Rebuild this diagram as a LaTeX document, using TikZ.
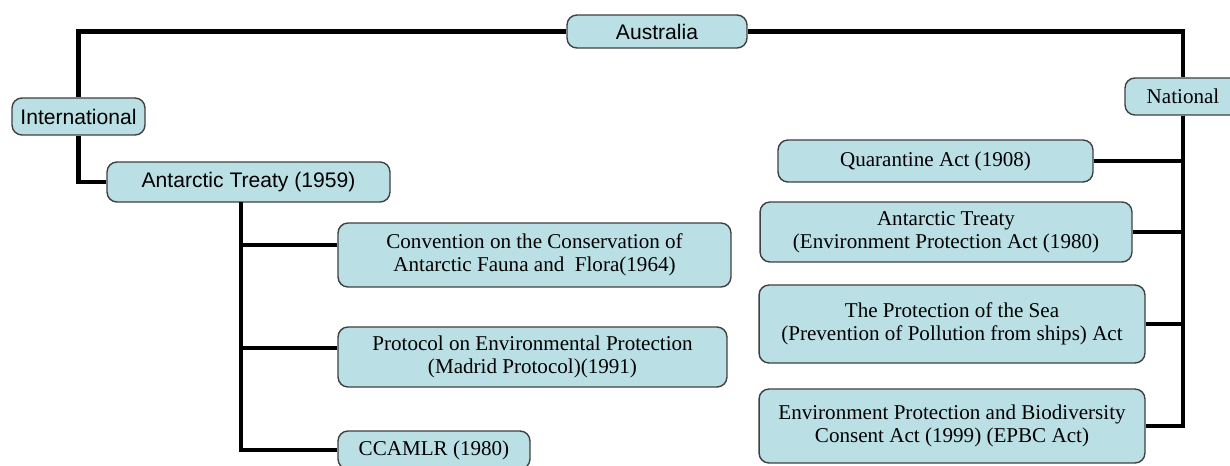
\documentclass[tikz,border=0pt]{standalone}
\usepackage{fontspec}
\setmainfont{Liberation Serif}
\setsansfont{Liberation Sans}
\usepackage{xcolor}
\usepackage{tikz}
\usetikzlibrary{positioning}

\definecolor{boxfill}{RGB}{186,224,229}
\definecolor{boxline}{RGB}{64,64,64}

\begin{document}
\begin{tikzpicture}[
        x=0.02cm, y=-0.02cm,
        every node/.style={font=\fontsize{12}{13.2}\selectfont},
        box/.style={rectangle, draw=boxline, line width=0.8pt, rounded corners=2mm, fill=boxfill, align=center, inner sep=2pt},
        sansbox/.style={box, font=\fontsize{12}{13.2}\selectfont\sffamily},
        link/.style={line width=2.3pt, black}
    ]
        \useasboundingbox[fill=white] (0,0) rectangle (1230,466);

        \node[sansbox, minimum width=3.6cm, minimum height=0.66cm] (aus) at (657,31.5) {Australia};
        \node[sansbox, minimum width=2.66cm, minimum height=0.74cm] (intl) at (78.5,116.5) {International};
        \node[sansbox, minimum width=5.66cm, minimum height=0.8cm] (at) at (248.5,182) {Antarctic Treaty (1959)};
        \node[box, minimum width=7.86cm, minimum height=1.28cm] (conv) at (534.5,255) {Convention on the Conservation of\\Antarctic Fauna and~ Flora(1964)};
        \node[box, minimum width=7.78cm, minimum height=1.2cm] (prot) at (532.5,357) {Protocol on Environmental Protection\\(Madrid Protocol)(1991)};
        \node[box, minimum width=3.84cm, minimum height=0.76cm] (ccamlr) at (434,450) {CCAMLR (1980)};

        \node[box, minimum width=2.32cm, minimum height=0.74cm] (nat) at (1183,96.5) {National};
        \node[box, minimum width=6.3cm, minimum height=0.84cm] (quar) at (935.5,161) {Quarantine Act (1908)};
        \node[box, minimum width=7.44cm, minimum height=1.2cm] (atepa) at (946,232) {Antarctic Treaty\\(Environment Protection Act (1980)};
        \node[box, minimum width=7.72cm, minimum height=1.56cm] (sea) at (952,324) {The Protection of the Sea\\(Prevention of Pollution from ships) Act};
        \node[box, minimum width=7.72cm, minimum height=1.48cm] (epbc) at (952,426) {Environment Protection and Biodiversity\\Consent Act (1999) (EPBC Act)};

        % international side
        \draw[link] (aus.west) -| (intl.north);
        \draw[link] (intl.south) |- (at.west);
        \coordinate (ltrunk) at (241,202);
        \draw[link] (ltrunk) |- ([yshift=2mm]conv.west);
        \draw[link] (ltrunk) |- ([yshift=1.8mm]prot.west);
        \draw[link] (ltrunk) |- (ccamlr.west);

        % national side
        \draw[link] (aus.east) -| (nat.north);
        \draw[link] (nat.south) |- (quar.east);
        \draw[link] (nat.south) |- (atepa.east);
        \draw[link] (nat.south) |- (sea.east);
        \draw[link] (nat.south) |- (epbc.east);
    \end{tikzpicture}
\end{document}
